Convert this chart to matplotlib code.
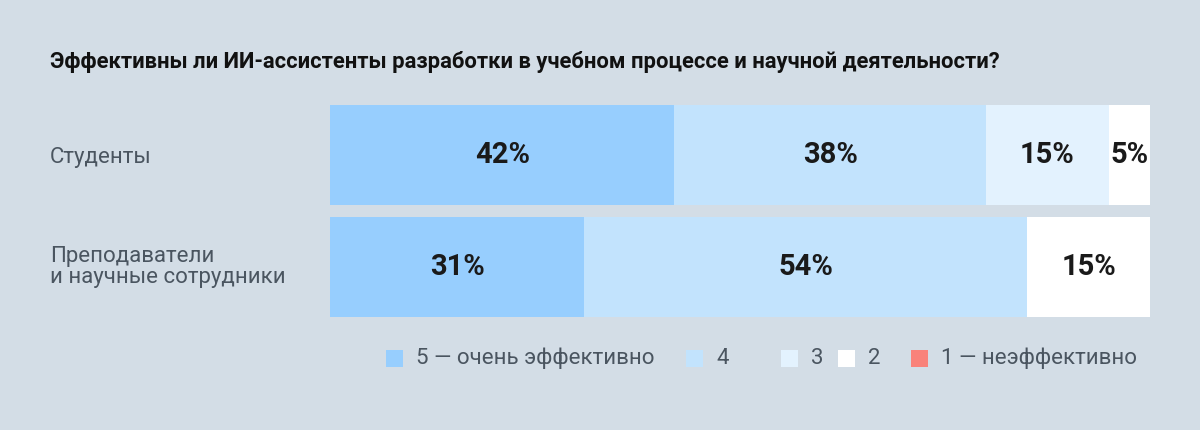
import matplotlib
matplotlib.use("Agg")
import matplotlib.pyplot as plt
from matplotlib.patches import Rectangle

categories = ["Студенты", "Преподаватели\nи научные сотрудники"]
levels = ["5 — очень эффективно", "4", "3", "2", "1 — неэффективно"]
students = [42, 38, 15, 5, 0]
teachers = [31, 54, 0, 15, 0]
colors = ["#97cefe", "#c2e3fd", "#e3f2fe", "#ffffff", "#f9827a"]
bg = "#d3dde6"

plt.rcParams['font.family'] = ['Roboto', 'DejaVu Sans']
fig = plt.figure(figsize=(12, 4.3), dpi=100, facecolor=bg)
ax = fig.add_axes([330/1200, 1-317/430, 820/1200, 212/430])
ax.set_facecolor(bg)
ax.set_xlim(0, 100)
ax.set_ylim(0, 212)
ax.axis('off')
ys = [162, 50]
for y, vals in zip(ys, [students, teachers]):
    left = 0
    for v, c in zip(vals, colors):
        if v <= 0:
            continue
        ax.barh(y, v, left=left, height=100, color=c, linewidth=0)
        ax.text(left + v/2, y, f"{v}%", ha='center', va='center',
                fontsize=21, fontweight='bold', color='#1a1a1a')
        left += v

fig.text(50/1200, 1-62/430, "Эффективны ли ИИ-ассистенты разработки в учебном процессе и научной деятельности?",
         fontsize=15.8, fontweight='bold', color='#111111', va='center')
fig.text(50/1200, 1-157/430, categories[0], fontsize=16, color='#4a5560', va='center')
fig.text(50/1200, 1-267/430, categories[1], fontsize=16, color='#4a5560', va='center', linespacing=1.05)

lx = [386, 686, 781, 838, 911]
for x, lab, c in zip(lx, levels, colors):
    fig.patches.append(Rectangle((x/1200, 1-367/430), 17/1200, 17/430, transform=fig.transFigure,
                                 facecolor=c, edgecolor='none'))
    fig.text((x+30)/1200, 1-358/430, lab, fontsize=16, color='#4a5560', va='center')

fig.savefig("out.png", facecolor=bg)
